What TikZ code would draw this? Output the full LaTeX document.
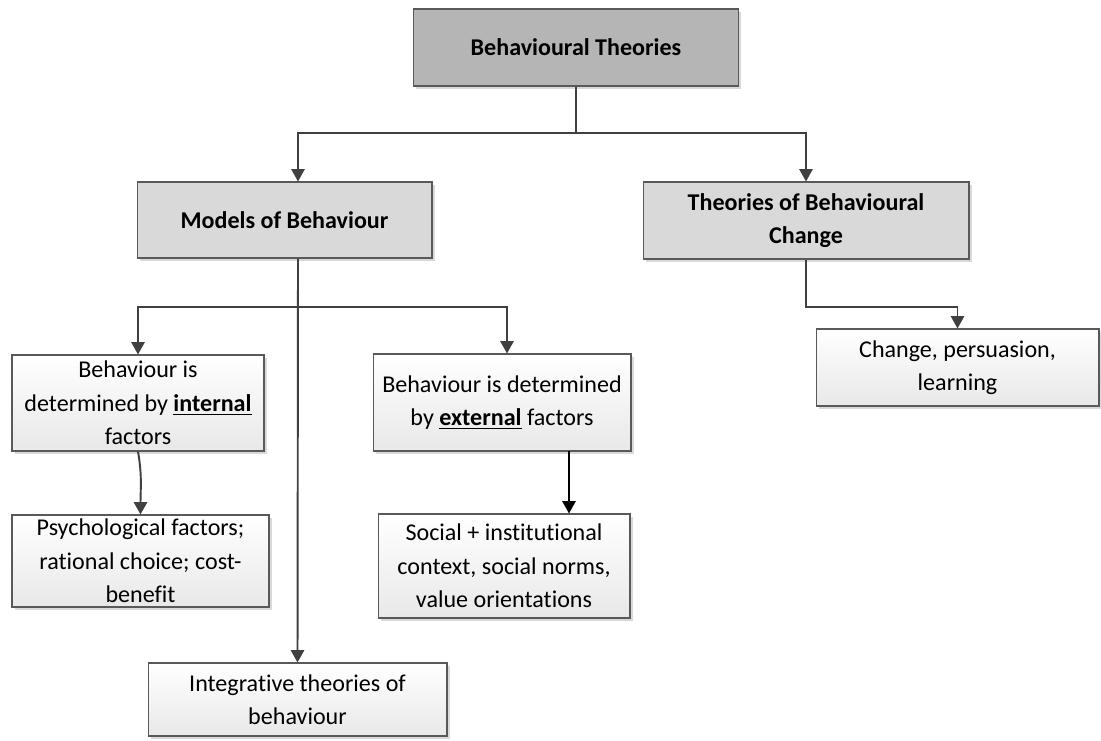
\documentclass[tikz,border=0pt]{standalone}
\usepackage{fontspec}
\setmainfont{Carlito}[Ligatures={NoCommon}]
\usepackage{tikz}
\usetikzlibrary{arrows.meta,%
                shadows}

\begin{document}
\begin{tikzpicture}[x=0.02cm, y=-0.02cm]
  \tikzstyle{every node} = [align = center,
			    inner sep = 0pt,
			    font = \fontsize{13.7}{19}\selectfont]
\tikzset{BoxStyle/.style={draw=black!65, line width=0.6pt,
    drop shadow={shadow xshift=1.5pt, shadow yshift=-1.5pt, fill=black!15, opacity=1}},
  HeadStyle/.style={BoxStyle, fill=black!29, font=\fontsize{13.7}{19}\selectfont\bfseries},
  SubStyle/.style={BoxStyle, fill=black!15, font=\fontsize{13.7}{19}\selectfont\bfseries},
  LeafStyle/.style={BoxStyle, top color=white, bottom color=black!9},
  EdgeStyle/.style={draw=black!75, line width=1.1pt, -{Triangle[width=7.5pt,length=7pt]}}}
\useasboundingbox (0,0) rectangle (1101,740);

\node[HeadStyle, minimum width=6.5cm, minimum height=1.54cm] (theo) at (576,47.5) {Behavioural Theories};
\node[SubStyle, minimum width=5.9cm, minimum height=1.52cm] (models) at (284.5,220) {Models of Behaviour};
\node[SubStyle, minimum width=6.52cm, minimum height=1.54cm] (change) at (806,220.5) {Theories of Behavioural\\Change};

\node[LeafStyle, minimum width=5.66cm, minimum height=1.54cm] (persu) at (957.5,367.5) {Change, persuasion,\\learning};
\node[LeafStyle, minimum width=5.04cm, minimum height=1.92cm] (intern) at (138,403) {Behaviour is\\determined by \underline{\textbf{internal}}\\factors};
\node[LeafStyle, minimum width=5.14cm, minimum height=1.84cm] (psych) at (140.5,561) {Psychological factors;\\rational choice; cost-\\benefit};
\node[LeafStyle, minimum width=5.16cm, minimum height=1.94cm] (extern) at (502,402.5) {Behaviour is determined\\by \underline{\textbf{external}} factors};
\node[LeafStyle, minimum width=5.04cm, minimum height=2.08cm] (social) at (504,566) {Social + institutional\\context, social norms,\\value orientations};
\node[LeafStyle, minimum width=5.98cm, minimum height=1.46cm] (integ) at (297.5,699.5) {Integrative theories of\\behaviour};

\coordinate (tl) at (298,133);
\coordinate (tr) at (806,133);
\coordinate (mj) at (298,307);
\coordinate (mx) at (507,307);
\coordinate (cj) at (957.5,307);
\coordinate (ej) at (569,451);

\draw[EdgeStyle] (theo.south) |- (tl) -- (tl |- models.north);
\draw[EdgeStyle] (theo.south) |- (tr) -- (change.north);
\draw[EdgeStyle] (change.south) |- (cj) -- (persu.north);
\draw[EdgeStyle] (mj |- models.south) -- (integ.north);
\draw[EdgeStyle] (mj) -| (intern.north);
\draw[EdgeStyle] (mj) -- (mx) -- (mx |- extern.north);
\draw[EdgeStyle] (intern.south) to[out=-80, in=90] (psych.north);
\draw[EdgeStyle, draw=black] (ej) -- (ej |- social.north);

\end{tikzpicture}
\end{document}
